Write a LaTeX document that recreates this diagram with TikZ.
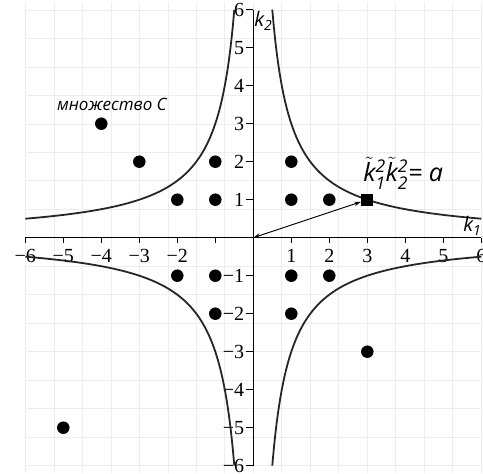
\documentclass[tikz,border=0pt]{standalone}
\usepackage{fontspec}
\usepackage{amsmath}
\setmainfont{Liberation Serif}
\newfontfamily\osans{Open Sans}
\usetikzlibrary{arrows.meta}
\begin{document}
\begin{tikzpicture}[x=38pt,y=38pt,
  dot/.style={circle,fill=black,inner sep=0pt,minimum size=12.5pt},
  sqr/.style={rectangle,fill=black,inner sep=0pt,minimum size=12pt},
  curve/.style={line width=1.8pt,color=black!85},
  gridline/.style={line width=0.7pt,color=black!7},
  axis/.style={line width=1.2pt},
  tickmark/.style={line width=0.9pt},
  ticklbl/.style={font=\fontsize{20}{20}\selectfont,inner sep=0pt},
  axlbl/.style={font=\osans\itshape\fontsize{20}{20}\selectfont,inner sep=0pt},
  eqlbl/.style={font=\osans\itshape\fontsize{25}{25}\selectfont,inner sep=0pt},
  setlbl/.style={font=\osans\itshape\fontsize{17}{17}\selectfont,inner sep=0pt}]
\useasboundingbox (-253.3pt,-236.3pt) rectangle (229.7pt,237.7pt);
\fill[white] (-253.3pt,-236.3pt) rectangle (229.7pt,237.7pt);
% grid
\draw[gridline] (-6,-6.2) grid (6,6.2);
% axes
\draw[axis] (-6,0) -- (6,0);
\draw[axis] (0,-6) -- (0,6);
% x ticks
\foreach \v in {-6,-5,-4,-3,-2,-1,1,2,3,4,5,6}
  \draw[tickmark] (\v,0) -- ++(0,-5pt);
\foreach \v in {-6,-5,-4,-3,-2}
  \node[ticklbl,anchor=base] (xl\v) at ([yshift=-25.3pt]\v,0) {−\the\numexpr-\v\relax};
\foreach \v in {1,...,6}
  \node[ticklbl,anchor=base] (xl\v) at ([yshift=-25.3pt]\v,0) {\v};
% y ticks
\foreach \v in {-6,-5,-4,-3,-2,-1,1,2,3,4,5,6}
  \draw[tickmark] (0,\v) -- ++(-7pt,0);
\foreach \v in {-6,-5,-4,-3,-2,-1}
  \node[ticklbl,anchor=east] (yl\v) at ([xshift=-9pt]0,\v) {−\the\numexpr-\v\relax};
\foreach \v in {1,...,6}
  \node[ticklbl,anchor=east] (yl\v) at ([xshift=-9pt]0,\v) {\v};
% hyperbolas
\draw[curve] plot[domain=0.5:6,samples=150,smooth] (\x,{3/\x});
\draw[curve] plot[domain=-6:-0.5,samples=150,smooth] (\x,{-3/\x});
\draw[curve] plot[domain=0.5:6,samples=150,smooth] (\x,{-3/\x});
\draw[curve] plot[domain=-6:-0.5,samples=150,smooth] (\x,{3/\x});
% points of set C
\foreach \px/\py [count=\i] in {-4/3,-3/2,-1/2,1/2,-2/1,-1/1,1/1,2/1,-2/-1,-1/-1,1/-1,2/-1,-1/-2,1/-2,3/-3,-5/-5}
  \node[dot] (p\i) at (\px,\py) {};
\node[sqr] (sq) at (3,1) {};
\coordinate (O) at (0,0);
\draw[{Stealth[length=7pt,width=4.5pt]}-{Stealth[length=7pt,width=4.5pt]},line width=0.9pt] (O) -- (sq);
% labels
\node[axlbl,anchor=base west] (k2) at (0.02,5.545) {$\text{k}_{\text{2}}$};
\node[axlbl,anchor=base west] (k1) at (5.52,0.15) {$\text{k}_{\text{1}}$};
\node[eqlbl,anchor=base west] (eq) at (2.89,1.466)
  {$\smash[t]{\tilde{\text{k}}}_{\text{1}}^{\text{2}}\smash[t]{\tilde{\text{k}}}_{\text{2}}^{\text{2}}\text{= a}$};
\node[setlbl,anchor=base west] (setC) at (-5.17,3.36) {множество C};
\end{tikzpicture}
\end{document}
